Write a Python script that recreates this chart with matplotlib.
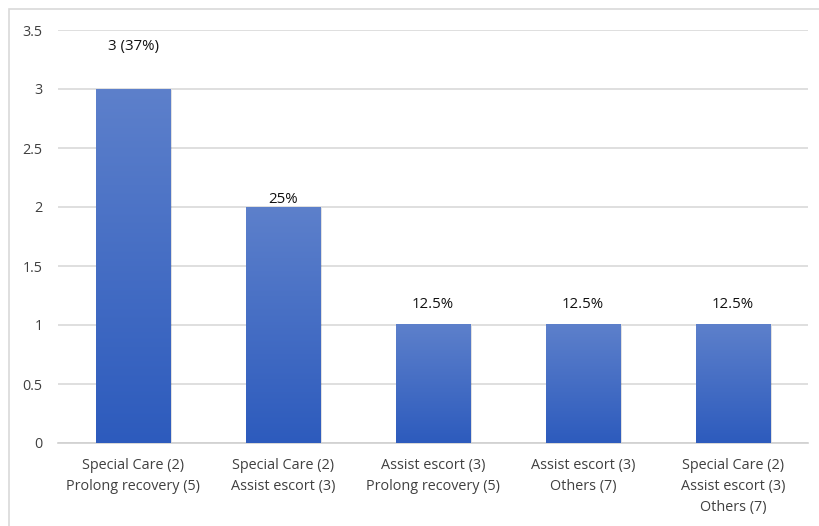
import numpy as np
import matplotlib.pyplot as plt
from matplotlib.patches import Rectangle
from matplotlib.colors import LinearSegmentedColormap

categories = [
    "Special Care (2)\nProlong recovery (5)",
    "Special Care (2)\nAssist escort (3)",
    "Assist escort (3)\nProlong recovery (5)",
    "Assist escort (3)\nOthers (7)",
    "Special Care (2)\nAssist escort (3)\nOthers (7)",
]
counts = [3, 2, 1, 1, 1]
bar_labels = ["3 (37%)", "25%", "12.5%", "12.5%", "12.5%"]
label_offsets = [25, 0, 9, 9, 9]  # points above bar top

plt.rcParams["font.family"] = ["Open Sans", "DejaVu Sans"]

fig = plt.figure(figsize=(8.19, 5.26), dpi=100)
ax = fig.add_axes([58 / 819, 1 - 443 / 526, 750 / 819, 413 / 526])

# light frame around the chart area
fig.patches.append(Rectangle((9 / 819, -0.1), 1.2, 1 - 9 / 526 + 0.1,
                             transform=fig.transFigure, fill=False,
                             edgecolor="#d9d9d9", linewidth=1.2))

x = np.arange(len(categories))
bars = ax.bar(x, counts, width=0.5, color="none", edgecolor="none", zorder=3)

cmap = LinearSegmentedColormap.from_list("bar_grad", ["#2d5bbd", "#5d80cb"])
grad = np.linspace(0, 1, 256).reshape(-1, 1)
for b in bars:
    x0, w, h = b.get_x(), b.get_width(), b.get_height()
    # soft shadow
    ax.add_patch(Rectangle((x0 + 0.012, -0.01), w, h, facecolor="#000000",
                           alpha=0.12, edgecolor="none", zorder=2))
    ax.imshow(grad, cmap=cmap, aspect="auto", origin="lower",
              extent=(x0, x0 + w, 0, h), zorder=3)

for b, lab, off in zip(bars, bar_labels, label_offsets):
    ax.annotate(lab, (b.get_x() + b.get_width() / 2, b.get_height()),
                xytext=(0, off), textcoords="offset points",
                ha="center", va="bottom", fontsize=10.8, color="#111111")

ax.set_xlim(-0.5, len(categories) - 0.5)
ax.set_ylim(0, 3.5)
ax.set_yticks(np.arange(0, 3.51, 0.5))
ax.set_yticklabels(["0", "0.5", "1", "1.5", "2", "2.5", "3", "3.5"])
ax.set_xticks(x)
ax.set_xticklabels(categories, linespacing=1.55)

ax.grid(axis="y", color="#d9d9d9", linewidth=1.2, zorder=0)
ax.set_axisbelow(True)
for s in ["top", "right", "left"]:
    ax.spines[s].set_visible(False)
ax.spines["bottom"].set_color("#d0d0d0")
ax.spines["bottom"].set_linewidth(1.2)
ax.tick_params(axis="both", length=0, labelsize=10.4, colors="#404040")
ax.tick_params(axis="y", pad=11)
ax.tick_params(axis="x", pad=11)

fig.savefig("out.png", dpi=100)
